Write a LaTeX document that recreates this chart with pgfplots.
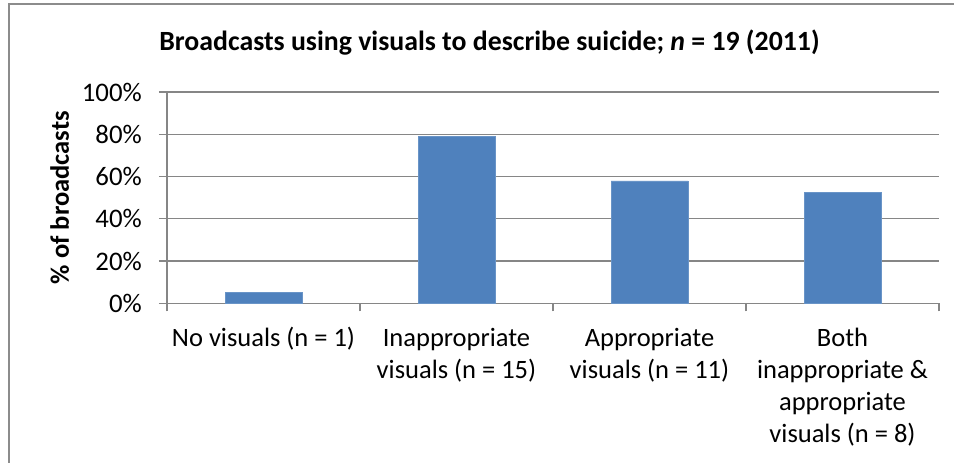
\documentclass[border=0pt]{standalone}
\usepackage{pgfplots}
\pgfplotsset{compat=1.18}
\usepackage{fontspec}
\setmainfont{Carlito}
\definecolor{barblue}{HTML}{4F81BD}
\definecolor{gridgray}{HTML}{868686}
\definecolor{framegray}{HTML}{8C8C8C}
\begin{document}
\begin{tikzpicture}
\useasboundingbox (0pt,0pt) rectangle (954pt,463pt);
\draw[framegray, line width=1.2pt] (9pt,0pt) -- (9pt,459pt) -- (954pt,459pt);
\node[font=\fontsize{27.8}{32}\selectfont\bfseries, anchor=base, inner sep=0pt] at (489.5pt,412pt) {Broadcasts using visuals to describe suicide; \textit{n} = 19 (2011)};
\begin{axis}[
  at={(167pt,159.7pt)}, anchor=south west,
  scale only axis, width=772pt, height=211.3pt,
  xmin=0.5, xmax=4.5, ymin=0, ymax=100,
  axis lines*=left,
  axis line style={gridgray, line width=1.2pt},
  every tick/.style={gridgray, line width=1.2pt},
  tick align=outside,
  major tick length=8pt,
  ymajorgrids,
  grid style={gridgray, line width=1.2pt},
  ytick={0,20,40,60,80,100},
  yticklabels={0\%,20\%,40\%,60\%,80\%,100\%},
  yticklabel style={font=\fontsize{26.8}{32}\selectfont, anchor=east, inner sep=0pt, xshift=-17pt},
  xtick={0.5,1.5,2.5,3.5,4.5},
  xticklabels={},
  extra x ticks={1,2,3,4},
  extra x tick labels={{\rule{0pt}{20pt}No visuals (n = 1)},{\rule{0pt}{20pt}Inappropriate\\visuals (n = 15)},{\rule{0pt}{20pt}Appropriate\\visuals (n = 11)},{\rule{0pt}{20pt}Both\\inappropriate \&\\appropriate\\visuals (n = 8)}},
  extra x tick style={major tick length=0pt, grid=none,
    xticklabel style={font=\fontsize{26.5}{32}\selectfont, align=center, anchor=north, inner sep=0pt, yshift=-22.7pt}},
  ylabel={\% of broadcasts},
  every axis y label/.style={at={(axis description cs:-0.127,0.5)}, rotate=90, anchor=base, font=\fontsize{26.5}{32}\selectfont\bfseries},
  clip=false,
]
\addplot[ybar, bar width=77pt, fill=barblue, draw=barblue!85!white, line width=0.6pt] coordinates {(1,5.3) (2,78.9) (3,57.9) (4,52.6)};
\end{axis}
\end{tikzpicture}
\end{document}
